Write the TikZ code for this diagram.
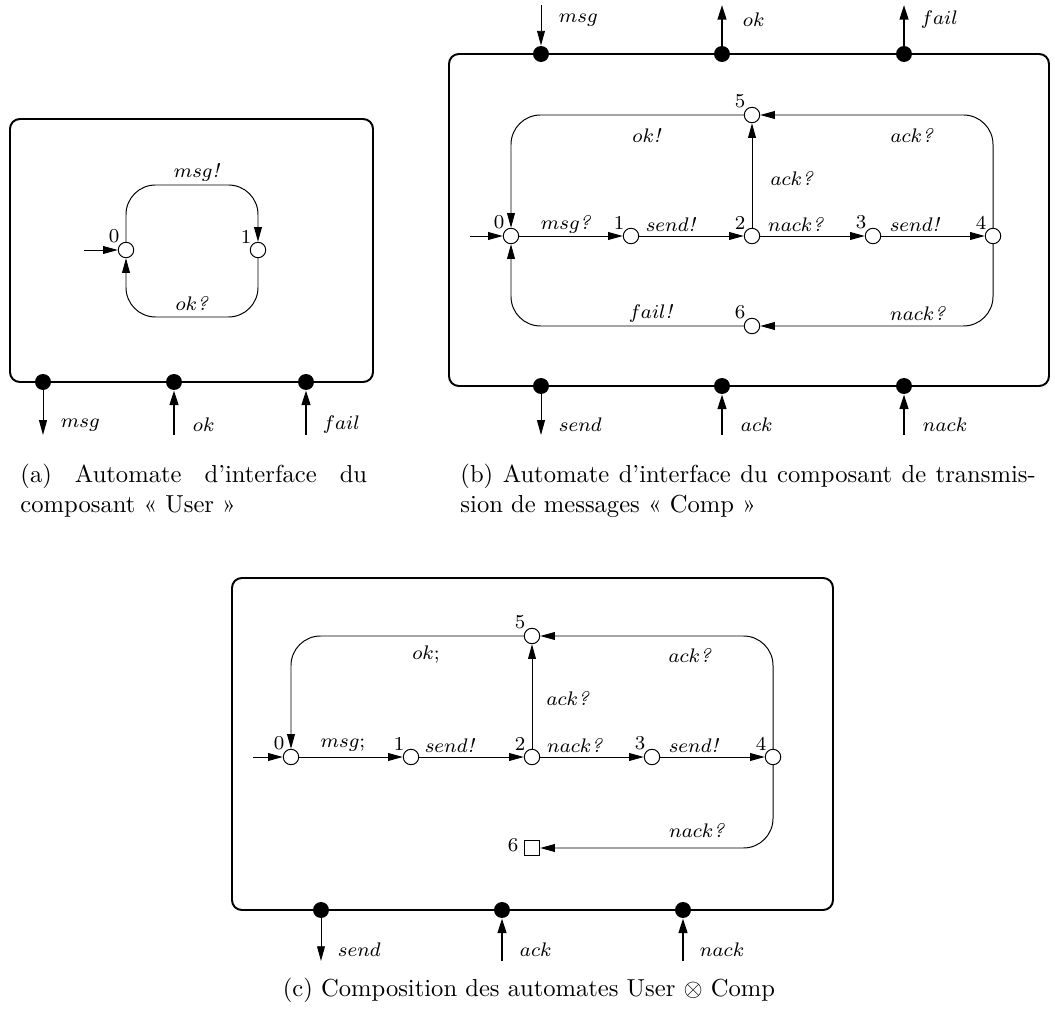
\documentclass[tikz,border=0pt]{standalone}
\usepackage{fontspec}
\usepackage{amsmath,amssymb}
\usetikzlibrary{arrows.meta}

\newcommand{\act}[2]{$#1$\textit{#2}}

\tikzset{
  loc/.style={circle, draw, fill=white, minimum size=6.3pt, inner sep=0pt},
  sink/.style={rectangle, draw, fill=white, minimum size=6.3pt, inner sep=0pt},
  port/.style={circle, fill, minimum size=6.5pt, inner sep=0pt},
  num/.style={anchor=south east, inner sep=0.2pt, font=\footnotesize},
  lab/.style={font=\footnotesize, inner sep=1pt},
  capt/.style={font=\normalsize, inner sep=0pt, align=justify},
  frame/.style={line width=0.8pt, rounded corners=4pt},
  trans/.style={-{Triangle[length=6pt,width=3.2pt]}, line width=0.4pt},
  loopy/.style={trans, rounded corners=12pt},
  thinport/.style={-{Triangle[length=6pt,width=3.2pt]}, line width=0.4pt},
  thickport/.style={-{Triangle[length=6pt,width=3.6pt]}, line width=0.8pt}
}

\begin{document}
\begin{tikzpicture}[x=0.0143cm, y=-0.0143cm]
        \useasboundingbox (0,0) rectangle (1055,1014);

        % (a) User
        \draw [frame] (10,119) rectangle (373,382);
        \node [loc] (a0) at (126,250) {};
        \node [loc] (a1) at (258,250) {};
        \node [num] (na0) at (a0.north west) {0};
        \node [num] (na1) at (a1.north west) {1};
        \coordinate (ia) at (84,250);
        \coordinate (atop) at (192,185);
        \coordinate (abot) at (192,317);
        \draw [trans] (ia) -- (a0);
        \draw [loopy] (a0) |- (atop) -| (a1);
        \draw [loopy] (a1) |- (abot) -| (a0);
        \node [lab] (la01) at (197,172) {\act{msg}{!}};
        \node [lab] (la10) at (192,303) {\act{ok}{?}};
        \node [port] (pa1) at (43,382) {};
        \node [port] (pa2) at (174,382) {};
        \node [port] (pa3) at (306,382) {};
        \coordinate (ea1) at (43,435);
        \coordinate (ea2) at (174,435);
        \coordinate (ea3) at (306,435);
        \draw [thinport] (pa1) -- (ea1);
        \draw [thickport] (ea2) -- (pa2);
        \draw [thickport] (ea3) -- (pa3);
        \node [lab, anchor=west] (qa1) at (58,425) {$msg$};
        \node [lab, anchor=west] (qa2) at (190,425) {$ok$};
        \node [lab, anchor=west] (qa3) at (320,425) {$fail$};

        % (b) Comp
        \draw [frame] (449,54) rectangle (1049,386);
        \foreach \n/\x/\y in {0/511/236, 1/631/236, 2/752/236, 3/873/236, 4/993/236, 5/752/115, 6/752/326} {
            \node [loc] (b\n) at (\x,\y) {};
            \node [num] (nb\n) at (b\n.north west) {\n};
        }
        \coordinate (ib) at (470,236);
        \draw [trans] (ib) -- (b0);
        \draw [trans] (b0) -- (b1);
        \draw [trans] (b1) -- (b2);
        \draw [trans] (b2) -- (b3);
        \draw [trans] (b3) -- (b4);
        \draw [trans] (b2) -- (b5);
        \draw [loopy] (b4) |- (b5);
        \draw [loopy] (b5) -| (b0);
        \draw [loopy] (b4) |- (b6);
        \draw [loopy] (b6) -| (b0);
        \node [lab] (lb01) at (566,224) {\act{msg}{?}};
        \node [lab] (lb12) at (671,224) {\act{send}{!}};
        \node [lab] (lb23) at (796,224) {\act{nack}{?}};
        \node [lab] (lb34) at (915,224) {\act{send}{!}};
        \node [lab] (lb25) at (792,178) {\act{ack}{?}};
        \node [lab] (lb45) at (912,135) {\act{ack}{?}};
        \node [lab] (lb50) at (647,135) {\act{ok}{!}};
        \node [lab] (lb46) at (918,313) {\act{nack}{?}};
        \node [lab] (lb60) at (651,313) {\act{fail}{!}};
        \foreach \i/\x in {1/541, 2/722, 3/904} {
            \node [port] (tb\i) at (\x,54) {};
            \node [port] (pb\i) at (\x,386) {};
            \coordinate (ub\i) at (\x,5);
            \coordinate (eb\i) at (\x,435);
        }
        \draw [thinport] (ub1) -- (tb1);
        \draw [thickport] (tb2) -- (ub2);
        \draw [thickport] (tb3) -- (ub3);
        \draw [thinport] (pb1) -- (eb1);
        \draw [thickport] (eb2) -- (pb2);
        \draw [thickport] (eb3) -- (pb3);
        \node [lab, anchor=west] (rb1) at (556,20) {$msg$};
        \node [lab, anchor=west] (rb2) at (740,20) {$ok$};
        \node [lab, anchor=west] (rb3) at (918,20) {$fail$};
        \node [lab, anchor=west] (qb1) at (556,425) {$send$};
        \node [lab, anchor=west] (qb2) at (738,425) {$ack$};
        \node [lab, anchor=west] (qb3) at (920,425) {$nack$};

        % (c) User x Comp
        \draw [frame] (232,578) rectangle (833,910);
        \foreach \n/\x/\y in {0/291/757, 1/411/757, 2/532/757, 3/652/757, 4/773/757, 5/532/636} {
            \node [loc] (c\n) at (\x,\y) {};
            \node [num] (nc\n) at (c\n.north west) {\n};
        }
        \node [sink] (c6) at (532,848) {};
        \node [num, anchor=east] (nc6) at ([xshift=-1.8pt, yshift=1.2pt]c6.west) {6};
        \coordinate (ic) at (253,757);
        \draw [trans] (ic) -- (c0);
        \draw [trans] (c0) -- (c1);
        \draw [trans] (c1) -- (c2);
        \draw [trans] (c2) -- (c3);
        \draw [trans] (c3) -- (c4);
        \draw [trans] (c2) -- (c5);
        \draw [loopy] (c4) |- (c5);
        \draw [loopy] (c5) -| (c0);
        \draw [loopy] (c4) |- (c6);
        \node [lab] (lc01) at (343,745) {$msg;$};
        \node [lab] (lc12) at (450,745) {\act{send}{!}};
        \node [lab] (lc23) at (575,745) {\act{nack}{?}};
        \node [lab] (lc34) at (694,745) {\act{send}{!}};
        \node [lab] (lc25) at (568,698) {\act{ack}{?}};
        \node [lab] (lc45) at (690,655) {\act{ack}{?}};
        \node [lab] (lc50) at (426,655) {$ok;$};
        \node [lab] (lc46) at (697,830) {\act{nack}{?}};
        \foreach \i/\x in {1/321, 2/502, 3/683} {
            \node [port] (pc\i) at (\x,910) {};
            \coordinate (ec\i) at (\x,961);
        }
        \draw [thinport] (pc1) -- (ec1);
        \draw [thickport] (ec2) -- (pc2);
        \draw [thickport] (ec3) -- (pc3);
        \node [lab, anchor=west] (qc1) at (335,950) {$send$};
        \node [lab, anchor=west] (qc2) at (517,950) {$ack$};
        \node [lab, anchor=west] (qc3) at (697,950) {$nack$};

        % captions
        \node [capt, text width=141pt, anchor=north west] (capa) at (20,464) {(a) Automate d'interface du\linebreak composant « User »};
        \node [capt, text width=234pt, anchor=north west] (capb) at (460,464) {(b) Automate d'interface du composant de transmis-\linebreak sion de messages « Comp »};
        \node [capt] (capc) at (529,990) {(c) Composition des automates User $\otimes$ Comp};
\end{tikzpicture}
\end{document}
